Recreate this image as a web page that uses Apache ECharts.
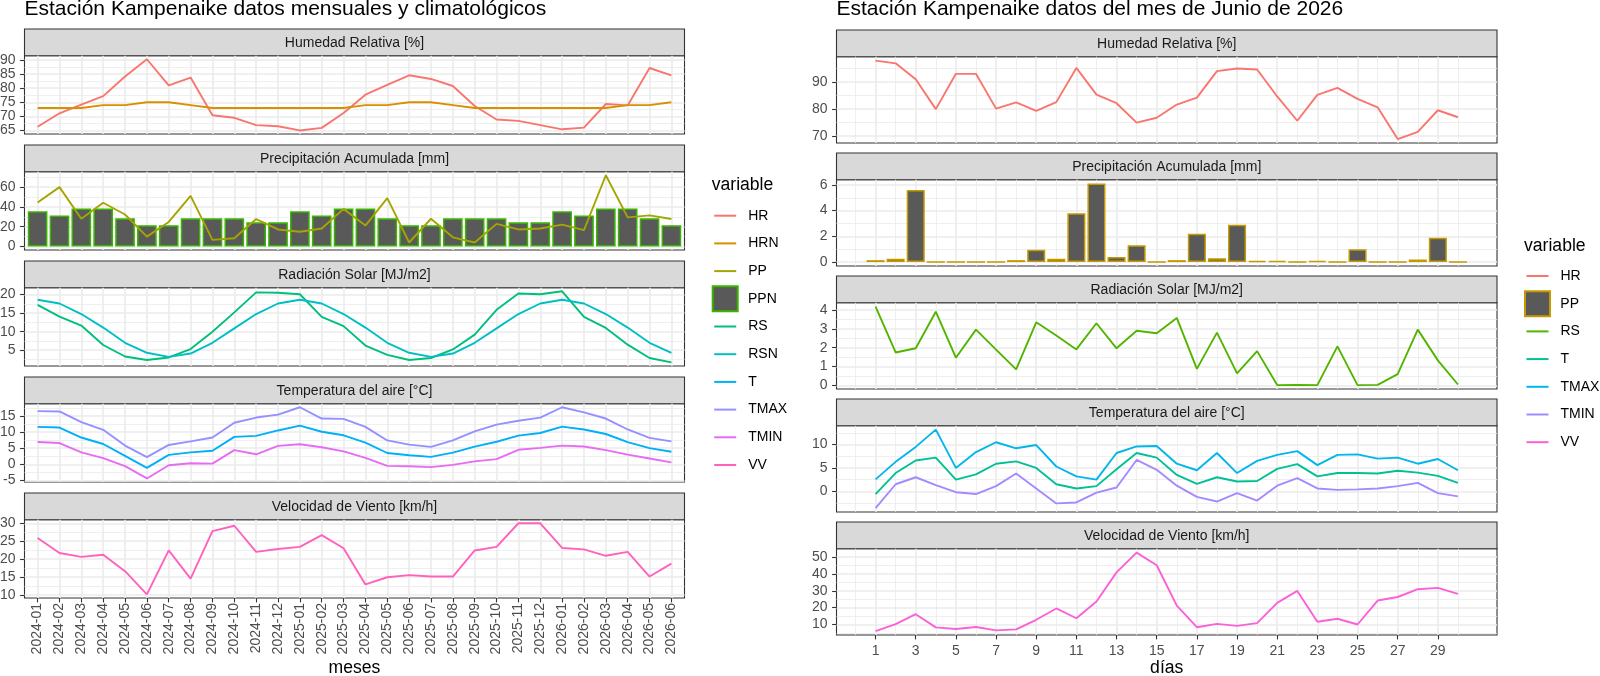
<!DOCTYPE html>
<html>
<head>
<meta charset="utf-8">
<title>Estación Kampenaike</title>
<script src="https://cdn.jsdelivr.net/npm/echarts@6.0.0/dist/echarts.min.js"></script>
<style>
  html, body { margin: 0; padding: 0; background: #fff; }
  #chart { width: 1600px; height: 676px; }
</style>
</head>
<body>
<div id="chart"></div>
<script>
// ---- datos mensuales (izquierda) ----
var meses = ['2024-01', '2024-02', '2024-03', '2024-04', '2024-05', '2024-06', '2024-07', '2024-08', '2024-09', '2024-10',
  '2024-11', '2024-12', '2025-01', '2025-02', '2025-03', '2025-04', '2025-05', '2025-06', '2025-07', '2025-08',
  '2025-09', '2025-10', '2025-11', '2025-12', '2026-01', '2026-02', '2026-03', '2026-04', '2026-05', '2026-06'];
var hr = [66.3, 71.1, 74.2, 77.2, 84.2, 90.3, 81.0, 83.8, 70.4, 69.5, 66.9, 66.5, 65.0, 65.9, 71.2,
  77.7, 81.2, 84.6, 83.3, 80.8, 73.7, 68.9, 68.4, 66.9, 65.4, 66.0, 74.4, 73.9, 87.2, 84.6];
var hrn = [73, 73, 73, 74, 74, 75, 75, 74, 73, 73, 73, 73, 73, 73, 73,
  74, 74, 75, 75, 74, 73, 73, 73, 73, 73, 73, 73, 74, 74, 75];
var pp = [44.5, 60, 28, 44.2, 32.3, 9.9, 24.8, 51.2, 6.6, 8.3, 27.7, 17.2, 14.9, 18.2, 38,
  21.1, 48.8, 4, 28, 9.2, 4, 22.8, 17.2, 18.2, 22.1, 16.5, 72, 29.4, 31.4, 27.7];
var ppn = [35.6, 31.3, 38.3, 38.3, 28.4, 21.5, 21.5, 28.4, 28.4, 28.4, 24.4, 24.4, 35.6, 31.3, 38.3,
  38.3, 28.4, 21.5, 21.5, 28.4, 28.4, 28.4, 24.4, 24.4, 35.6, 31.3, 38.3, 38.3, 28.4, 21.5];
var rs = [17.25, 14.05, 11.65, 6.4, 3.3, 2.35, 3.05, 5.3, 10.0, 15.2, 20.6, 20.5, 20.1, 14.0, 11.5,
  6.25, 3.75, 2.35, 2.9, 5.2, 9.2, 15.9, 20.3, 20.1, 20.9, 14.0, 11.0, 6.5, 2.9, 1.7];
var rsn = [18.6, 17.6, 14.75, 11.1, 7.0, 4.3, 3.2, 4.1, 7.0, 10.9, 14.75, 17.6, 18.6, 17.6, 14.75,
  11.1, 7.0, 4.3, 3.2, 4.1, 7.0, 10.9, 14.75, 17.6, 18.6, 17.6, 14.75, 11.1, 7.0, 4.3];
var t = [11.6, 11.4, 8.3, 6.3, 2.6, -1.1, 2.9, 3.7, 4.2, 8.5, 8.8, 10.5, 12.0, 10.1, 9.0,
  6.7, 3.5, 2.8, 2.3, 3.6, 5.5, 7.0, 8.9, 9.7, 11.7, 10.8, 9.4, 6.9, 5.0, 3.9];
var tmax = [16.5, 16.4, 13.1, 10.7, 5.8, 2.2, 6.0, 7.1, 8.3, 12.9, 14.5, 15.4, 17.7, 14.2, 14.1,
  11.6, 7.4, 6.1, 5.4, 7.4, 10.2, 12.3, 13.5, 14.5, 17.7, 16.1, 14.2, 10.8, 8.2, 7.1];
var tmin = [6.9, 6.6, 3.7, 1.9, -0.6, -4.4, -0.3, 0.3, 0.2, 4.4, 3.1, 5.7, 6.2, 5.3, 4.0,
  2.0, -0.5, -0.6, -0.9, -0.2, 0.9, 1.6, 4.5, 5.1, 5.8, 5.5, 4.4, 3.0, 1.8, 0.6];
var vv = [25.9, 21.7, 20.6, 21.2, 16.6, 10.1, 22.4, 14.5, 27.8, 29.3, 22.0, 22.8, 23.4, 26.7, 23.0,
  12.9, 14.9, 15.5, 15.1, 15.1, 22.4, 23.4, 30.0, 30.0, 23.1, 22.7, 20.9, 22.0, 15.1, 18.7];

// ---- datos diarios junio 2026 (derecha) ----
var dias = [1, 2, 3, 4, 5, 6, 7, 8, 9, 10, 11, 12, 13, 14, 15, 16, 17, 18, 19, 20, 21, 22, 23, 24, 25, 26, 27, 28, 29, 30];
var hrDia = [98.0, 97.0, 91.1, 80.0, 93.1, 93.1, 80.2, 82.5, 79.4, 82.6, 95.3, 85.4, 82.2, 75.0, 76.8,
  81.7, 84.3, 94.1, 95.1, 94.7, 84.7, 75.7, 85.3, 87.9, 83.8, 80.7, 68.9, 71.6, 79.6, 77.0];
var ppDia = [0.15, 0.25, 5.6, 0, 0, 0, 0, 0.15, 0.95, 0.25, 3.8, 6.1, 0.4, 1.3, 0,
  0.15, 2.2, 0.3, 2.9, 0.1, 0.1, 0, 0.1, 0, 1.0, 0, 0, 0.2, 1.9, 0];
var rsDia = [4.18, 1.75, 1.97, 3.91, 1.47, 2.96, 1.9, 0.85, 3.35, 2.65, 1.91, 3.3, 1.97, 2.9, 2.77,
  3.58, 0.88, 2.8, 0.64, 1.82, 0.02, 0.03, 0.02, 2.07, 0.02, 0.03, 0.6, 2.96, 1.33, 0.05];
var tDia = [-0.6, 3.9, 6.6, 7.2, 2.5, 3.6, 5.9, 6.4, 5.0, 1.5, 0.6, 1.1, 4.7, 8.2, 7.2,
  3.5, 1.6, 3.0, 2.1, 2.2, 4.8, 5.8, 3.2, 3.9, 3.9, 3.8, 4.4, 4.0, 3.3, 1.8];
var tmaxDia = [2.55, 6.3, 9.5, 13.2, 5.0, 8.4, 10.5, 9.2, 9.9, 5.3, 3.2, 2.5, 8.2, 9.6, 9.7,
  5.9, 4.5, 8.2, 3.9, 6.5, 7.8, 8.6, 5.6, 7.8, 7.9, 7.0, 7.2, 5.9, 6.9, 4.5];
var tminDia = [-3.6, 1.5, 3.0, 1.3, -0.2, -0.6, 1.1, 3.8, 0.6, -2.6, -2.4, -0.3, 0.8, 6.7, 4.6,
  1.2, -1.2, -2.2, -0.4, -2.0, 1.2, 2.8, 0.6, 0.3, 0.4, 0.6, 1.1, 1.8, -0.4, -1.1];
var vvDia = [6.1, 10.2, 16.1, 8.3, 7.3, 8.5, 6.5, 7.1, 12.8, 19.5, 13.7, 23.6, 40.9, 52.6, 45.1,
  21.2, 8.4, 10.4, 9.2, 10.8, 22.8, 29.9, 11.6, 13.4, 10.0, 24.2, 26.3, 30.9, 31.7, 28.2];

// ---- etiquetas de los ejes ----
var ticksHR = [65, 70, 75, 80, 85, 90];
var ticksPP = [0, 20, 40, 60];
var ticksRS = [5, 10, 15, 20];
var ticksT = [-5, 0, 5, 10, 15];
var ticksVV = [10, 15, 20, 25, 30];
var ticksHRDia = [70, 80, 90];
var ticksPPDia = [0, 2, 4, 6];
var ticksRSDia = [0, 1, 2, 3, 4];
var ticksTDia = [0, 5, 10];
var ticksVVDia = [10, 20, 30, 40, 50];
var ticksDias = [1, 3, 5, 7, 9, 11, 13, 15, 17, 19, 21, 23, 25, 27, 29];

var FONT = '"Liberation Sans", Arial, sans-serif';
var GRID = '#EBEBEB';
var BORDE = '#333333';
var BAR_FILL = '#595959';

// rango con expansion del 5% (como ggplot)
function rango(arrs, conCero) {
  var all = [].concat.apply([], arrs);
  if (conCero) all.push(0);
  var lo = Math.min.apply(null, all), hi = Math.max.apply(null, all);
  var e = (hi - lo) * 0.05;
  return [lo - e, hi + e];
}
// lineas menores a mitad de camino entre las mayores
function menores(ticks, r) {
  var step = ticks[1] - ticks[0], out = [];
  for (var v = ticks[0] - step / 2; v <= r[1]; v += step) {
    if (v >= r[0]) out.push(v);
  }
  return out;
}

var paneles = [
  {
    lado: 'L', left: 24.5, width: 660, top0: 29, paso: 116, strip: 26.7, alto: 78.3,
    x: meses.map(function (m, i) { return i; }),
    xr: [-0.6, meses.length - 1 + 0.6],
    xTicks: meses.map(function (m, i) { return i; }),
    xMinor: false,
    facetas: [
      { titulo: 'Humedad Relativa [%]', ticks: ticksHR,
        lineas: [['HR', hr, '#F8766D'], ['HRN', hrn, '#D89000']] },
      { titulo: 'Precipitación Acumulada [mm]', ticks: ticksPP, barra: ['PPN', ppn, '#39B600'],
        lineas: [['PP', pp, '#A3A500']] },
      { titulo: 'Radiación Solar [MJ/m2]', ticks: ticksRS,
        lineas: [['RS', rs, '#00BF7D'], ['RSN', rsn, '#00BFC4']] },
      { titulo: 'Temperatura del aire [°C]', ticks: ticksT,
        lineas: [['T', t, '#00B0F6'], ['TMAX', tmax, '#9590FF'], ['TMIN', tmin, '#E76BF3']] },
      { titulo: 'Velocidad de Viento [km/h]', ticks: ticksVV,
        lineas: [['VV', vv, '#FF62BC']] }
    ]
  },
  {
    lado: 'R', left: 836.5, width: 660.5, top0: 30, paso: 123, strip: 26.7, alto: 86.3,
    x: dias,
    xr: [dias[0] - 0.45 - 0.05 * (dias.length - 0.1), dias[dias.length - 1] + 0.45 + 0.05 * (dias.length - 0.1)],
    xTicks: ticksDias,
    xMinor: true,
    facetas: [
      { titulo: 'Humedad Relativa [%]', ticks: ticksHRDia,
        lineas: [['HR', hrDia, '#F8766D']] },
      { titulo: 'Precipitación Acumulada [mm]', ticks: ticksPPDia, barra: ['PP', ppDia, '#C49A00'],
        lineas: [] },
      { titulo: 'Radiación Solar [MJ/m2]', ticks: ticksRSDia,
        lineas: [['RS', rsDia, '#53B400']] },
      { titulo: 'Temperatura del aire [°C]', ticks: ticksTDia,
        lineas: [['T', tDia, '#00C094'], ['TMAX', tmaxDia, '#00B6EB'], ['TMIN', tminDia, '#A58AFF']] },
      { titulo: 'Velocidad de Viento [km/h]', ticks: ticksVVDia,
        lineas: [['VV', vvDia, '#FB61D7']] }
    ]
  }
];

var grids = [], xAxes = [], yAxes = [], series = [], graphics = [];
var g = 0;

paneles.forEach(function (p) {
  var bandPx = p.width / (p.xr[1] - p.xr[0]);
  p.facetas.forEach(function (f, k) {
    var stripTop = p.top0 + k * p.paso;
    var top = stripTop + p.strip;
    var abajo = k === p.facetas.length - 1;
    grids.push({
      left: p.left, top: top, width: p.width, height: p.alto,
      show: true, backgroundColor: '#fff', borderColor: BORDE, borderWidth: 1.1,
      containLabel: false, outerBoundsMode: 'none'
    });

    // banda del titulo de la faceta
    graphics.push({
      type: 'rect', silent: true,
      shape: { x: p.left, y: stripTop, width: p.width, height: p.strip },
      style: { fill: '#D9D9D9', stroke: BORDE, lineWidth: 1.1 }
    });
    graphics.push({
      type: 'text', silent: true, x: p.left + p.width / 2, y: stripTop + p.strip / 2 + 0.5,
      style: { text: f.titulo, fill: '#1A1A1A', font: '14px ' + FONT, align: 'center', verticalAlign: 'middle' }
    });

    // rango y
    var arrs = f.lineas.map(function (l) { return l[1]; });
    if (f.barra) arrs.push(f.barra[1]);
    var yr = rango(arrs, !!f.barra);

    // ejes x: mayor + menor
    xAxes.push({
      gridIndex: g, type: 'value', min: p.xr[0], max: p.xr[1], position: 'bottom',
      axisLine: { show: false, onZero: false },
      axisTick: { show: abajo, customValues: p.xTicks, length: 4.4, lineStyle: { color: BORDE, width: 1.1 } },
      axisLabel: {
        show: abajo, customValues: p.xTicks, color: '#4D4D4D', fontSize: 14, fontFamily: FONT,
        rotate: p.lado === 'L' ? 90 : 0, margin: p.lado === 'L' ? 5 : 9,
        formatter: p.lado === 'L' ? function (v) { return meses[Math.round(v)]; } : function (v) { return String(v); }
      },
      splitLine: { show: true, lineStyle: { color: GRID, width: 1.6 } }
    });
    xAxes.push({
      gridIndex: g, type: 'value', min: p.xr[0], max: p.xr[1], position: 'top',
      axisLine: { show: false, onZero: false },
      axisTick: { show: false, customValues: p.xMinor ? menores(p.xTicks, p.xr) : [] },
      axisLabel: { show: false },
      splitLine: { show: p.xMinor, lineStyle: { color: GRID, width: 0.8 } }
    });

    // ejes y: mayor + menor
    yAxes.push({
      gridIndex: g, type: 'value', min: yr[0], max: yr[1], position: 'left',
      axisLine: { show: false, onZero: false },
      axisTick: { show: true, customValues: f.ticks, length: 4.4, lineStyle: { color: BORDE, width: 1.1 } },
      axisLabel: { customValues: f.ticks, color: '#4D4D4D', fontSize: 14, fontFamily: FONT, margin: 9 },
      splitLine: { show: true, lineStyle: { color: GRID, width: 1.6 } }
    });
    yAxes.push({
      gridIndex: g, type: 'value', min: yr[0], max: yr[1], position: 'right',
      axisLine: { show: false, onZero: false },
      axisTick: { show: false, customValues: menores(f.ticks, yr) },
      axisLabel: { show: false },
      splitLine: { show: true, lineStyle: { color: GRID, width: 0.8 } }
    });

    if (f.barra) {
      series.push({
        type: 'bar', name: p.lado + ':' + f.barra[0],
        xAxisIndex: 2 * g, yAxisIndex: 2 * g,
        data: f.barra[1].map(function (v, i) { return [p.x[i], v]; }),
        barWidth: 0.9 * bandPx,
        itemStyle: { color: BAR_FILL, borderColor: f.barra[2], borderWidth: 1.5 },
        silent: true, z: 2
      });
    }
    f.lineas.forEach(function (l) {
      series.push({
        type: 'line', name: p.lado + ':' + l[0],
        xAxisIndex: 2 * g, yAxisIndex: 2 * g,
        data: l[1].map(function (v, i) { return [p.x[i], v]; }),
        symbol: 'none', showSymbol: false,
        lineStyle: { color: l[2], width: 1.9 }, itemStyle: { color: l[2] },
        silent: true, z: 3
      });
    });
    g++;
  });
});

// ---- leyendas: un componente por elemento ----
var leyendaL = [['HR', '#F8766D'], ['HRN', '#D89000'], ['PP', '#A3A500'], ['PPN', '#39B600', true], ['RS', '#00BF7D'],
  ['RSN', '#00BFC4'], ['T', '#00B0F6'], ['TMAX', '#9590FF'], ['TMIN', '#E76BF3'], ['VV', '#FF62BC']];
var leyendaR = [['HR', '#F8766D'], ['PP', '#C49A00', true], ['RS', '#53B400'], ['T', '#00C094'],
  ['TMAX', '#00B6EB'], ['TMIN', '#A58AFF'], ['VV', '#FB61D7']];
var legends = [];
function leyendas(lado, items, x0, cy0, paso) {
  items.forEach(function (it, i) {
    var cy = cy0 + i * paso;
    var box = !!it[2];
    legends.push({
      show: true, selectedMode: false, orient: 'vertical', padding: 0, itemGap: 0,
      left: box ? x0 : x0 + 2.5,
      top: box ? cy - 13.5 : cy - 7,
      itemWidth: box ? 25 : 22, itemHeight: box ? 25 : 2,
      icon: 'rect',
      data: [{
        name: lado + ':' + it[0],
        itemStyle: box ? { color: BAR_FILL, borderColor: it[1], borderWidth: 2 } : { color: it[1], borderWidth: 0 }
      }],
      formatter: function (n) { return n.slice(2); },
      textStyle: { fontSize: 14, color: '#000', fontFamily: FONT, padding: [0, 0, 0, box ? 5.3 : 7] }
    });
  });
}
leyendas('L', leyendaL, 711.7, 215.7, 27.7);
leyendas('R', leyendaR, 1524, 276, 27.7);

// titulos y nombres de ejes
graphics.push(
  { type: 'text', silent: true, x: 24.5, y: 9,
    style: { text: 'Estación Kampenaike datos mensuales y climatológicos', fill: '#000', font: '21px ' + FONT, align: 'left', verticalAlign: 'middle' } },
  { type: 'text', silent: true, x: 836.5, y: 9,
    style: { text: 'Estación Kampenaike datos del mes de Junio de 2026', fill: '#000', font: '21px ' + FONT, align: 'left', verticalAlign: 'middle' } },
  { type: 'text', silent: true, x: 711.7, y: 185,
    style: { text: 'variable', fill: '#000', font: '17.6px ' + FONT, align: 'left', verticalAlign: 'middle' } },
  { type: 'text', silent: true, x: 1524, y: 246,
    style: { text: 'variable', fill: '#000', font: '17.6px ' + FONT, align: 'left', verticalAlign: 'middle' } },
  { type: 'text', silent: true, x: 24.5 + 330, y: 668,
    style: { text: 'meses', fill: '#000', font: '17.6px ' + FONT, align: 'center', verticalAlign: 'middle' } },
  { type: 'text', silent: true, x: 836.5 + 330.25, y: 668,
    style: { text: 'días', fill: '#000', font: '17.6px ' + FONT, align: 'center', verticalAlign: 'middle' } }
);

var chart = echarts.init(document.getElementById('chart'), null, { renderer: 'canvas' });
chart.setOption({
  backgroundColor: '#ffffff',
  animation: false,
  textStyle: { fontFamily: FONT },
  grid: grids,
  xAxis: xAxes,
  yAxis: yAxes,
  legend: legends,
  series: series,
  graphic: graphics
});
</script>
</body>
</html>
